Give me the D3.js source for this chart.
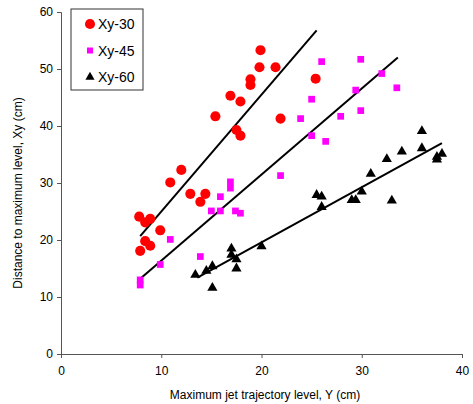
<!DOCTYPE html>
<html><head><meta charset="utf-8">
<script src="https://cdn.jsdelivr.net/npm/d3@7"></script>
<style>body{margin:0;background:#fff}svg{display:block}text{font-family:"Liberation Sans",Arial,sans-serif}</style>
</head><body><svg id="c" width="473" height="404"></svg>
<script>
const xTicks = [0, 10, 20, 30, 40];
const yTicks = [0, 10, 20, 30, 40, 50, 60];
const seriesNames = ["Xy-30", "Xy-45", "Xy-60"];
const xy30 = [[7.8,24.1],[8.4,23.1],[8.9,23.7],[9.9,21.7],[8.4,19.8],[8.9,19.0],[7.9,18.1],[10.9,30.1],[12.0,32.3],[12.9,28.1],[14.4,28.1],[13.9,26.7],[15.4,41.7],[17.5,39.3],[17.9,38.3],[16.9,45.3],[17.9,44.3],[18.9,48.2],[18.9,47.2],[19.8,50.3],[19.9,53.3],[21.4,50.3],[21.9,41.3],[25.4,48.3]];
const xy45 = [[26.0,51.3],[29.9,51.7],[32.0,49.2],[33.5,46.7],[29.4,46.3],[25.0,44.7],[23.9,41.3],[27.9,41.7],[29.9,42.7],[25.0,38.3],[26.4,37.3],[21.9,31.3],[16.9,30.2],[16.9,29.1],[15.9,27.6],[15.0,25.1],[15.9,25.1],[17.4,25.1],[17.9,24.7],[13.9,17.1],[10.9,20.1],[9.9,15.7],[7.9,13.0],[7.9,12.1]];
const xy60 = [[36.0,39.1],[36.0,36.1],[34.0,35.5],[32.5,34.2],[30.9,31.6],[37.5,34.6],[37.5,34.1],[38.0,35.1],[30.0,28.5],[25.5,27.9],[26.0,27.6],[26.0,25.8],[29.0,27.0],[29.4,27.0],[33.0,26.9],[20.0,18.9],[17.0,18.5],[17.0,17.4],[17.5,16.6],[17.5,15.0],[15.1,15.4],[14.5,14.6],[15.1,11.6],[13.4,13.9]];
// trendlines: [slope, intercept, xStart, xEnd]
const trend30 = [2.05, 4.5, 7.9, 25.5];
const trend45 = [1.51, 1.27, 7.9, 33.6];
const trend60 = [0.967, 0.25, 13.6, 38.0];

const svg = d3.select("#c");
const x = d3.scaleLinear().domain([0, 40]).range([61, 462]);
const y = d3.scaleLinear().domain([0, 60]).range([354, 12]);

const xAxis = svg.append("g").attr("transform", "translate(0,354)")
  .call(d3.axisBottom(x).tickValues(xTicks).tickSize(4).tickPadding(8));
const yAxis = svg.append("g").attr("transform", "translate(61,0)")
  .call(d3.axisLeft(y).tickValues(yTicks).tickSize(4).tickPadding(4));
[xAxis, yAxis].forEach(g => {
  g.selectAll("path,line").attr("stroke", "#555").attr("stroke-width", 1);
  g.selectAll("text").attr("font-size", 12).attr("fill", "#000").attr("font-family", "Liberation Sans, Arial, sans-serif");
});

svg.append("text").attr("x", 265).attr("y", 399).attr("text-anchor", "middle")
  .attr("font-size", 12).text("Maximum jet trajectory level, Y (cm)");
svg.append("text").attr("transform", "translate(22,193) rotate(-90)").attr("text-anchor", "middle")
  .attr("font-size", 12).text("Distance to maximum level, Xy (cm)");

const line = d3.line().x(d => x(d[0])).y(d => y(d[1]));
[trend30, trend45, trend60].forEach(t => {
  const pts = [[t[2], t[0]*t[2]+t[1]], [t[3], t[0]*t[3]+t[1]]];
  svg.append("path").attr("d", line(pts)).attr("stroke", "#000").attr("stroke-width", 2).attr("fill", "none");
});

const sym = [d3.symbolCircle, d3.symbolSquare, d3.symbolTriangle];
const sizes = [80, 45, 45];
const colors = ["#ff0000", "#ff00ff", "#000000"];
[xy30, xy45, xy60].forEach((data, i) => {
  svg.append("g").selectAll("path").data(data).join("path")
    .attr("transform", d => `translate(${x(d[0])},${y(d[1])})`)
    .attr("d", d3.symbol(sym[i], sizes[i]))
    .attr("fill", colors[i]);
});

// legend
const lg = svg.append("g");
lg.append("rect").attr("x", 71).attr("y", 9).attr("width", 72).attr("height", 81)
  .attr("fill", "#fff").attr("stroke", "#333").attr("stroke-width", 1);
seriesNames.forEach((n, i) => {
  const cy = 24 + i * 26.5;
  lg.append("path").attr("transform", `translate(90,${cy})`)
    .attr("d", d3.symbol(sym[i], i === 0 ? 80 : 36)).attr("fill", colors[i]);
  lg.append("text").attr("x", 98).attr("y", cy + 5).attr("font-size", 14).text(n);
});
</script></body></html>
